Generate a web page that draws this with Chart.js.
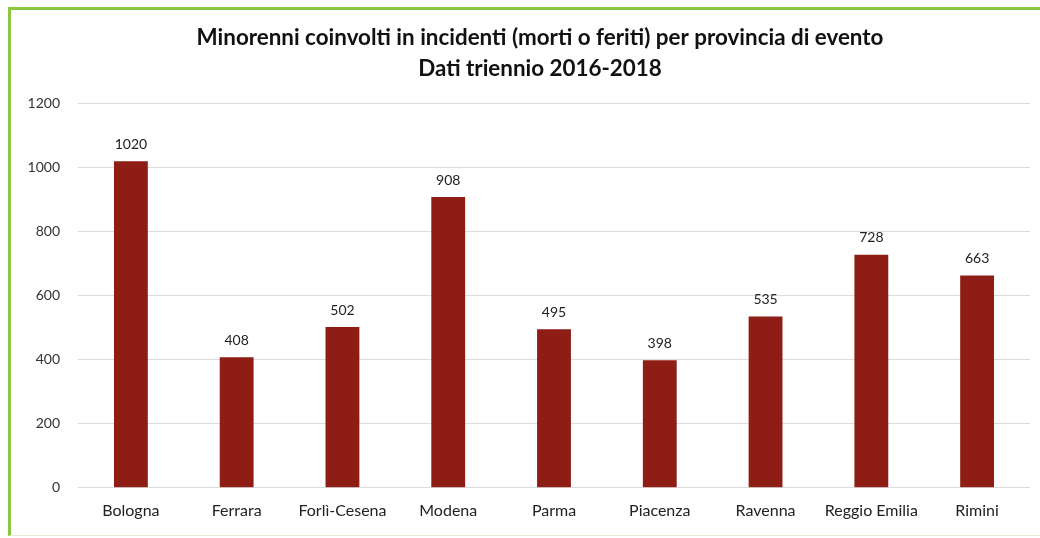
<!DOCTYPE html>
<html>
<head>
<meta charset="utf-8">
<script src="https://cdn.jsdelivr.net/npm/chart.js@4.4.1/dist/chart.umd.min.js"></script>
<style>
  html, body { margin: 0; padding: 0; background: #fff; }
  #wrap { position: relative; width: 1040px; height: 538px; }
  #frame {
    position: absolute; left: 8px; top: 7px; right: 0; bottom: 2px;
    border-left: 3px solid #8dc63f; border-top: 3px solid #8dc63f;
    border-bottom: 1px solid #e3efd2;
    pointer-events: none;
  }
  canvas { position: absolute; left: 0; top: 0; }
</style>
</head>
<body>
<div id="wrap">
  <canvas id="chart" width="1040" height="538"></canvas>
  <div id="frame"></div>
</div>
<script>
// dati
const province = ['Bologna', 'Ferrara', 'Forlì-Cesena', 'Modena', 'Parma', 'Piacenza', 'Ravenna', 'Reggio Emilia', 'Rimini'];
const minorenni = [1020, 408, 502, 908, 495, 398, 535, 728, 663];
const titolo = ['Minorenni coinvolti in incidenti (morti o feriti) per provincia di evento', 'Dati triennio 2016-2018'];

const fontName = 'Lato, "Open Sans", sans-serif';

// etichette sopra le barre
const valueLabels = {
    id: 'valueLabels',
    afterDatasetsDraw(chart) {
        const ctx = chart.ctx;
        const meta = chart.getDatasetMeta(0);
        ctx.save();
        ctx.font = '14px ' + fontName;
        ctx.fillStyle = '#222';
        ctx.textAlign = 'center';
        ctx.textBaseline = 'bottom';
        meta.data.forEach((bar, i) => {
            ctx.fillText(minorenni[i], bar.x, bar.y - 10);
        });
        ctx.restore();
    }
};

// il titolo nell'originale e' un po' spostato a destra
const titleShift = {
    id: 'titleShift',
    afterLayout(chart) {
        if (chart.titleBlock) chart.titleBlock.right += 38;
    }
};

const ctx = document.getElementById('chart').getContext('2d');
const chart = new Chart(ctx, {
    type: 'bar',
    data: {
        labels: province,
        datasets: [{
            data: minorenni,
            backgroundColor: '#8e1d15',
            barPercentage: 0.64,
            categoryPercentage: 0.5
        }]
    },
    options: {
        responsive: false,
        animation: false,
        layout: { padding: { top: 23, left: 12, right: 10, bottom: 13 } },
        plugins: {
            legend: { display: false },
            tooltip: { enabled: false },
            title: {
                display: true,
                text: titolo,
                color: '#111',
                font: { family: fontName, size: 22.4, weight: 'bold', lineHeight: 1.35 },
                padding: { top: 0, bottom: 20 }
            }
        },
        scales: {
            x: {
                grid: { display: false },
                border: { display: false },
                ticks: { color: '#222', font: { family: fontName, size: 16 }, padding: 5 }
            },
            y: {
                min: 0,
                max: 1200,
                ticks: {
                    stepSize: 200, color: '#333', font: { family: fontName, size: 14 }, padding: 18,
                    callback: v => String(v)
                },
                grid: { color: '#dcdcdc', drawTicks: false },
                border: { display: false },
                afterFit(scale) { scale.width = 66; }
            }
        }
    },
    plugins: [valueLabels, titleShift]
});
</script>
</body>
</html>
